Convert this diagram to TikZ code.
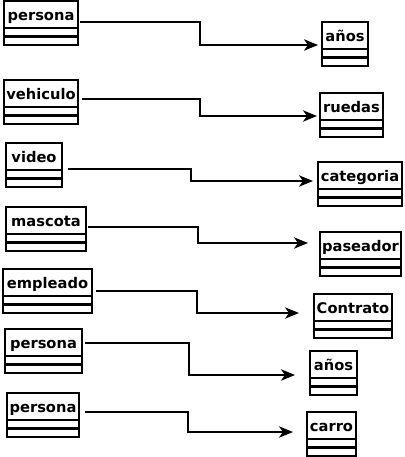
\documentclass[tikz,border=0pt]{standalone}
\usepackage{fontspec}
\newfontfamily\umlfont{DejaVu Sans}
\usetikzlibrary{arrows.meta}
\newlength\px
\setlength\px{0.75pt}

\begin{document}
\begin{tikzpicture}[x=0.75pt,y=-0.75pt]
\useasboundingbox (0,0) rectangle (404,457);

\begin{scope}[every node/.style={draw,line width=1.8pt,anchor=north west,
              inner xsep=1pt,inner ysep=2pt,outer sep=0pt,
              minimum height=27\px,text height=11\px,text depth=0pt,
              font=\umlfont\bfseries\fontsize{11pt}{12pt}\selectfont}]
    \node[minimum width=74\px] (persona1) at (4  ,1  ) {persona};
    \node[minimum width=74\px] (vehiculo) at (4  ,80 ) {vehiculo};
    \node[minimum width=56\px] (video)    at (6  ,143) {video};
    \node[minimum width=80\px] (mascota)  at (6  ,207) {mascota};
    \node[minimum width=89\px] (empleado) at (3  ,269) {empleado};
    \node[minimum width=77\px] (persona2) at (5  ,329) {persona};
    \node[minimum width=72\px] (persona3) at (7  ,393) {persona};

    \node[minimum width=46\px] (anios1)    at (322,22 ) {años};
    \node[minimum width=63\px] (ruedas)    at (320,93 ) {ruedas};
    \node[minimum width=84\px] (categoria) at (318,162) {categoria};
    \node[minimum width=81\px] (paseador)  at (320,232) {paseador};
    \node[minimum width=78\px] (contrato)  at (314,294) {Contrato};
    \node[minimum width=47\px] (anios2)    at (310,351) {años};
    \node[minimum width=49\px] (carro)     at (307,412) {carro};
\end{scope}

% empty attribute and method rows
\foreach \c in {persona1,vehiculo,video,mascota,empleado,persona2,persona3,
                anios1,ruedas,categoria,paseador,contrato,anios2,carro}
    \draw[line width=1.8pt] (\c.south west) rectangle ([yshift=-8.5\px]\c.south east)
                            rectangle ([yshift=-17\px]\c.south west);

\begin{scope}[>={Stealth[length=10.5pt,width=8.5pt,inset=3pt]}, line width=1.5pt]
    \path [->,draw] ([shift={(2,21)}]persona1.north east) -| (200,45)  -- ([shift={(-4,23)}]anios1.north west);
    \path [->,draw] ([shift={(4,19)}]vehiculo.north east) -| (200,116) -- ([shift={(-3,23)}]ruedas.north west);
    \path [->,draw] ([shift={(6,26)}]video.north east)    -| (191,181) -- ([shift={(-5,19)}]categoria.north west);
    \path [->,draw] ([shift={(2,20)}]mascota.north east)  -| (198,243) -- ([shift={(-12,11)}]paseador.north west);
    \path [->,draw] ([shift={(4,22)}]empleado.north east) -| (197,313) -- ([shift={(-15,19)}]contrato.north west);
    \path [->,draw] ([shift={(3,14)}]persona2.north east) -| (189,375) -- ([shift={(-15,24)}]anios2.north west);
    \path [->,draw] ([shift={(6,19)}]persona3.north east) -| (188,432) -- ([shift={(-14,20)}]carro.north west);
\end{scope}
\end{tikzpicture}
\end{document}
